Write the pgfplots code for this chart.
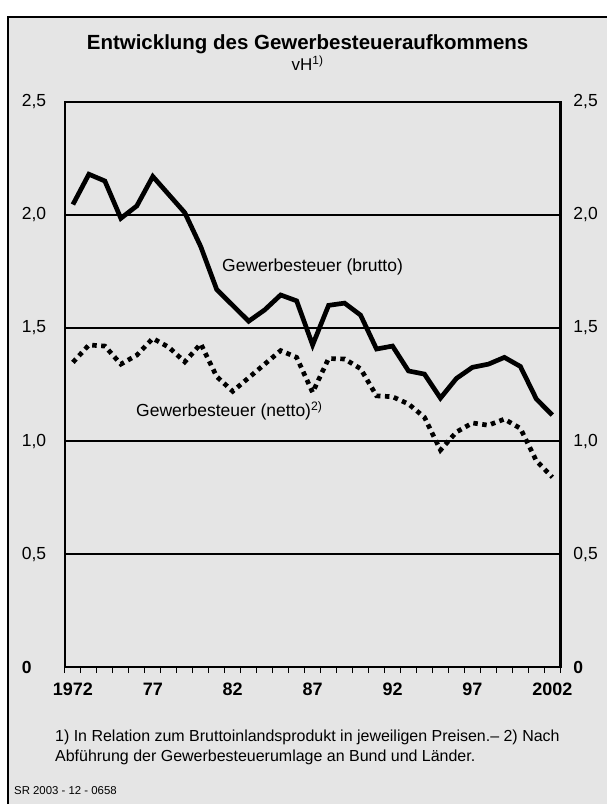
\documentclass[border=0pt]{standalone}
\usepackage{fontspec}
\setmainfont{Liberation Sans}
\usepackage{pgfplots}
\pgfplotsset{compat=1.18}
\definecolor{bg}{RGB}{229,229,229}

\begin{document}
\begin{tikzpicture}
\fill[white] (0pt,0pt) rectangle (608pt,805pt);
\fill[bg] (8pt,0pt) rectangle (608pt,788pt);
\draw[line width=2pt] (8pt,0pt) -- (8pt,788pt) -- (608pt,788pt);
\useasboundingbox (0pt,0pt) rectangle (608pt,805pt);

\node[font=\fontsize{20.5}{24}\selectfont\bfseries, anchor=base, inner sep=0pt] at (308pt,755pt) {Entwicklung des Gewerbesteueraufkommens};
\node[font=\fontsize{17}{20}\selectfont, anchor=base, inner sep=0pt] at (308pt,734pt) {vH\textsuperscript{1)}};

\begin{axis}[
  at={(65pt,137pt)}, anchor=south west,
  scale only axis, width=496pt, height=566pt,
  xmin=1971.5, xmax=2002.5, ymin=0, ymax=2.5,
  axis line style={line width=2.4pt},
  tick align=outside,
  xtick pos=bottom,
  xtick={1972,1977,1982,1987,1992,1997,2002},
  xticklabels={1972,77,82,87,92,97,2002},
  major x tick style={draw=none},
  minor xtick={1971.5,1972.5,...,2002.5},
  minor x tick style={line width=1pt, black},
  minor tick length=6pt,
  xticklabel style={font=\fontsize{18}{21}\selectfont\bfseries, anchor=north, inner sep=0pt, text height=13pt, text depth=0pt, yshift=-11pt},
  ytick={0,0.5,1,1.5,2,2.5},
  yticklabels={\textbf{0},{0,5},{1,0},{1,5},{2,0},{2,5}},
  y tick style={draw=none},
  yticklabel style={font=\fontsize{17.5}{20}\selectfont, anchor=west, inner sep=0pt, xshift=-39pt},
  ymajorgrids,
  grid style={line width=1.3pt, black},
]
\addplot[black, line width=4.7pt, miter limit=4] coordinates {
(1972,2.046) (1973,2.18) (1974,2.15) (1975,1.985) (1976,2.04) (1977,2.17)
(1978,2.09) (1979,2.01) (1980,1.86) (1981,1.67) (1982,1.60) (1983,1.53)
(1984,1.58) (1985,1.646) (1986,1.62) (1987,1.425) (1988,1.60) (1989,1.61)
(1990,1.557) (1991,1.407) (1992,1.42) (1993,1.31) (1994,1.296) (1995,1.19)
(1996,1.277) (1997,1.326) (1998,1.34) (1999,1.37) (2000,1.33) (2001,1.186)
(2002,1.115)
};
\addplot[black, line width=4.7pt, dash pattern=on 4.5pt off 4.5pt, miter limit=4] coordinates {
(1972,1.348) (1973,1.425) (1974,1.42) (1975,1.34) (1976,1.38) (1977,1.454)
(1978,1.415) (1979,1.35) (1980,1.43) (1981,1.285) (1982,1.22) (1983,1.28)
(1984,1.34) (1985,1.40) (1986,1.37) (1987,1.215) (1988,1.365) (1989,1.363)
(1990,1.32) (1991,1.20) (1992,1.196) (1993,1.164) (1994,1.105) (1995,0.96)
(1996,1.04) (1997,1.08) (1998,1.07) (1999,1.097) (2000,1.056) (2001,0.913)
(2002,0.84)
};
\node[anchor=west, inner sep=0pt, font=\fontsize{17.5}{20}\selectfont] at (axis cs:1981.33,1.771) {Gewerbesteuer (brutto)};
\node[anchor=west, inner sep=0pt, font=\fontsize{17.5}{20}\selectfont] at (axis cs:1975.95,1.135) {Gewerbesteuer (netto)\textsuperscript{2)}};
\end{axis}

\begin{axis}[
  at={(65pt,137pt)}, anchor=south west,
  scale only axis, width=496pt, height=566pt,
  xmin=1971.5, xmax=2002.5, ymin=0, ymax=2.5,
  axis x line=none, axis y line*=right,
  axis line style={line width=2.4pt},
  ytick={0,0.5,1,1.5,2,2.5},
  yticklabels={\textbf{0},{0,5},{1,0},{1,5},{2,0},{2,5}},
  y tick style={draw=none},
  yticklabel style={font=\fontsize{17.5}{20}\selectfont, anchor=west, inner sep=0pt, xshift=13pt},
]
\end{axis}

\node[anchor=base west, inner sep=0pt, font=\fontsize{16}{19}\selectfont] at (55pt,63pt) {1) In Relation zum Bruttoinlandsprodukt in jeweiligen Preisen.-- 2) Nach};
\node[anchor=base west, inner sep=0pt, font=\fontsize{16}{19}\selectfont] at (55pt,43pt) {Abführung der Gewerbesteuerumlage an Bund und Länder.};
\node[anchor=base west, inner sep=0pt, font=\fontsize{11.4}{13}\selectfont] at (14pt,10pt) {SR 2003 - 12 - 0658};
\end{tikzpicture}
\end{document}
